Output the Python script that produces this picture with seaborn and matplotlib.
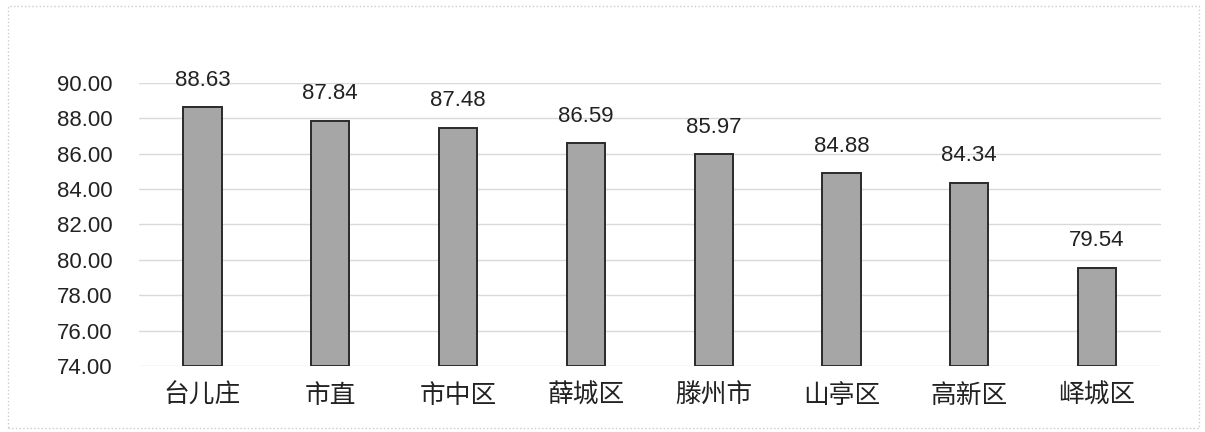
import pandas as pd
import seaborn as sns
import matplotlib.pyplot as plt
from matplotlib.patches import Rectangle

# 数据
regions = ['台儿庄', '市直', '市中区', '薛城区', '滕州市', '山亭区', '高新区', '峄城区']
scores = [88.63, 87.84, 87.48, 86.59, 85.97, 84.88, 84.34, 79.54]
y_ticks = [74, 76, 78, 80, 82, 84, 86, 88, 90]

df = pd.DataFrame({'region': regions, 'score': scores})

sns.set_theme(style="white")
plt.rcParams['font.family'] = ['Noto Sans CJK SC', 'DejaVu Sans']

fig = plt.figure(figsize=(12.05, 4.32), dpi=100)
ax = fig.add_axes([0.115, 0.153, 0.8485, 0.655])

sns.barplot(x='region', y='score', data=df, color='#a6a6a6', width=0.3,
            edgecolor='#2a2a2a', linewidth=1.4, ax=ax, zorder=3)

# 从74开始画柱子
for p in ax.patches:
    h = p.get_height()
    p.set_y(74)
    p.set_height(h - 74)

ax.set_ylim(74, 90)
ax.set_yticks(y_ticks)
ax.set_yticklabels([f'{v:.2f}' for v in y_ticks], fontsize=16, family='Liberation Sans', color='#222222')
ax.yaxis.grid(True, color='#d9d9d9', linewidth=1, zorder=0)
ax.tick_params(axis='y', pad=19, length=0)
ax.tick_params(axis='x', pad=12, length=0)
for lbl in ax.get_xticklabels():
    lbl.set_fontsize(18.5)
    lbl.set_color('#222222')
ax.set_xlabel('')
ax.set_ylabel('')
for s in ax.spines.values():
    s.set_visible(False)

# 数值标签
for i, v in enumerate(scores):
    ax.annotate(f'{v:.2f}', (i, v), xytext=(0, 12), textcoords='offset points',
                ha='center', va='bottom', fontsize=16, family='Liberation Sans', color='#222222')

# 外框
fig.patches.append(Rectangle((0.007, 0.01), 0.988, 0.975, transform=fig.transFigure,
                             fill=False, edgecolor='#cccccc', linestyle=':', linewidth=1))

plt.savefig('out.png', dpi=100)
